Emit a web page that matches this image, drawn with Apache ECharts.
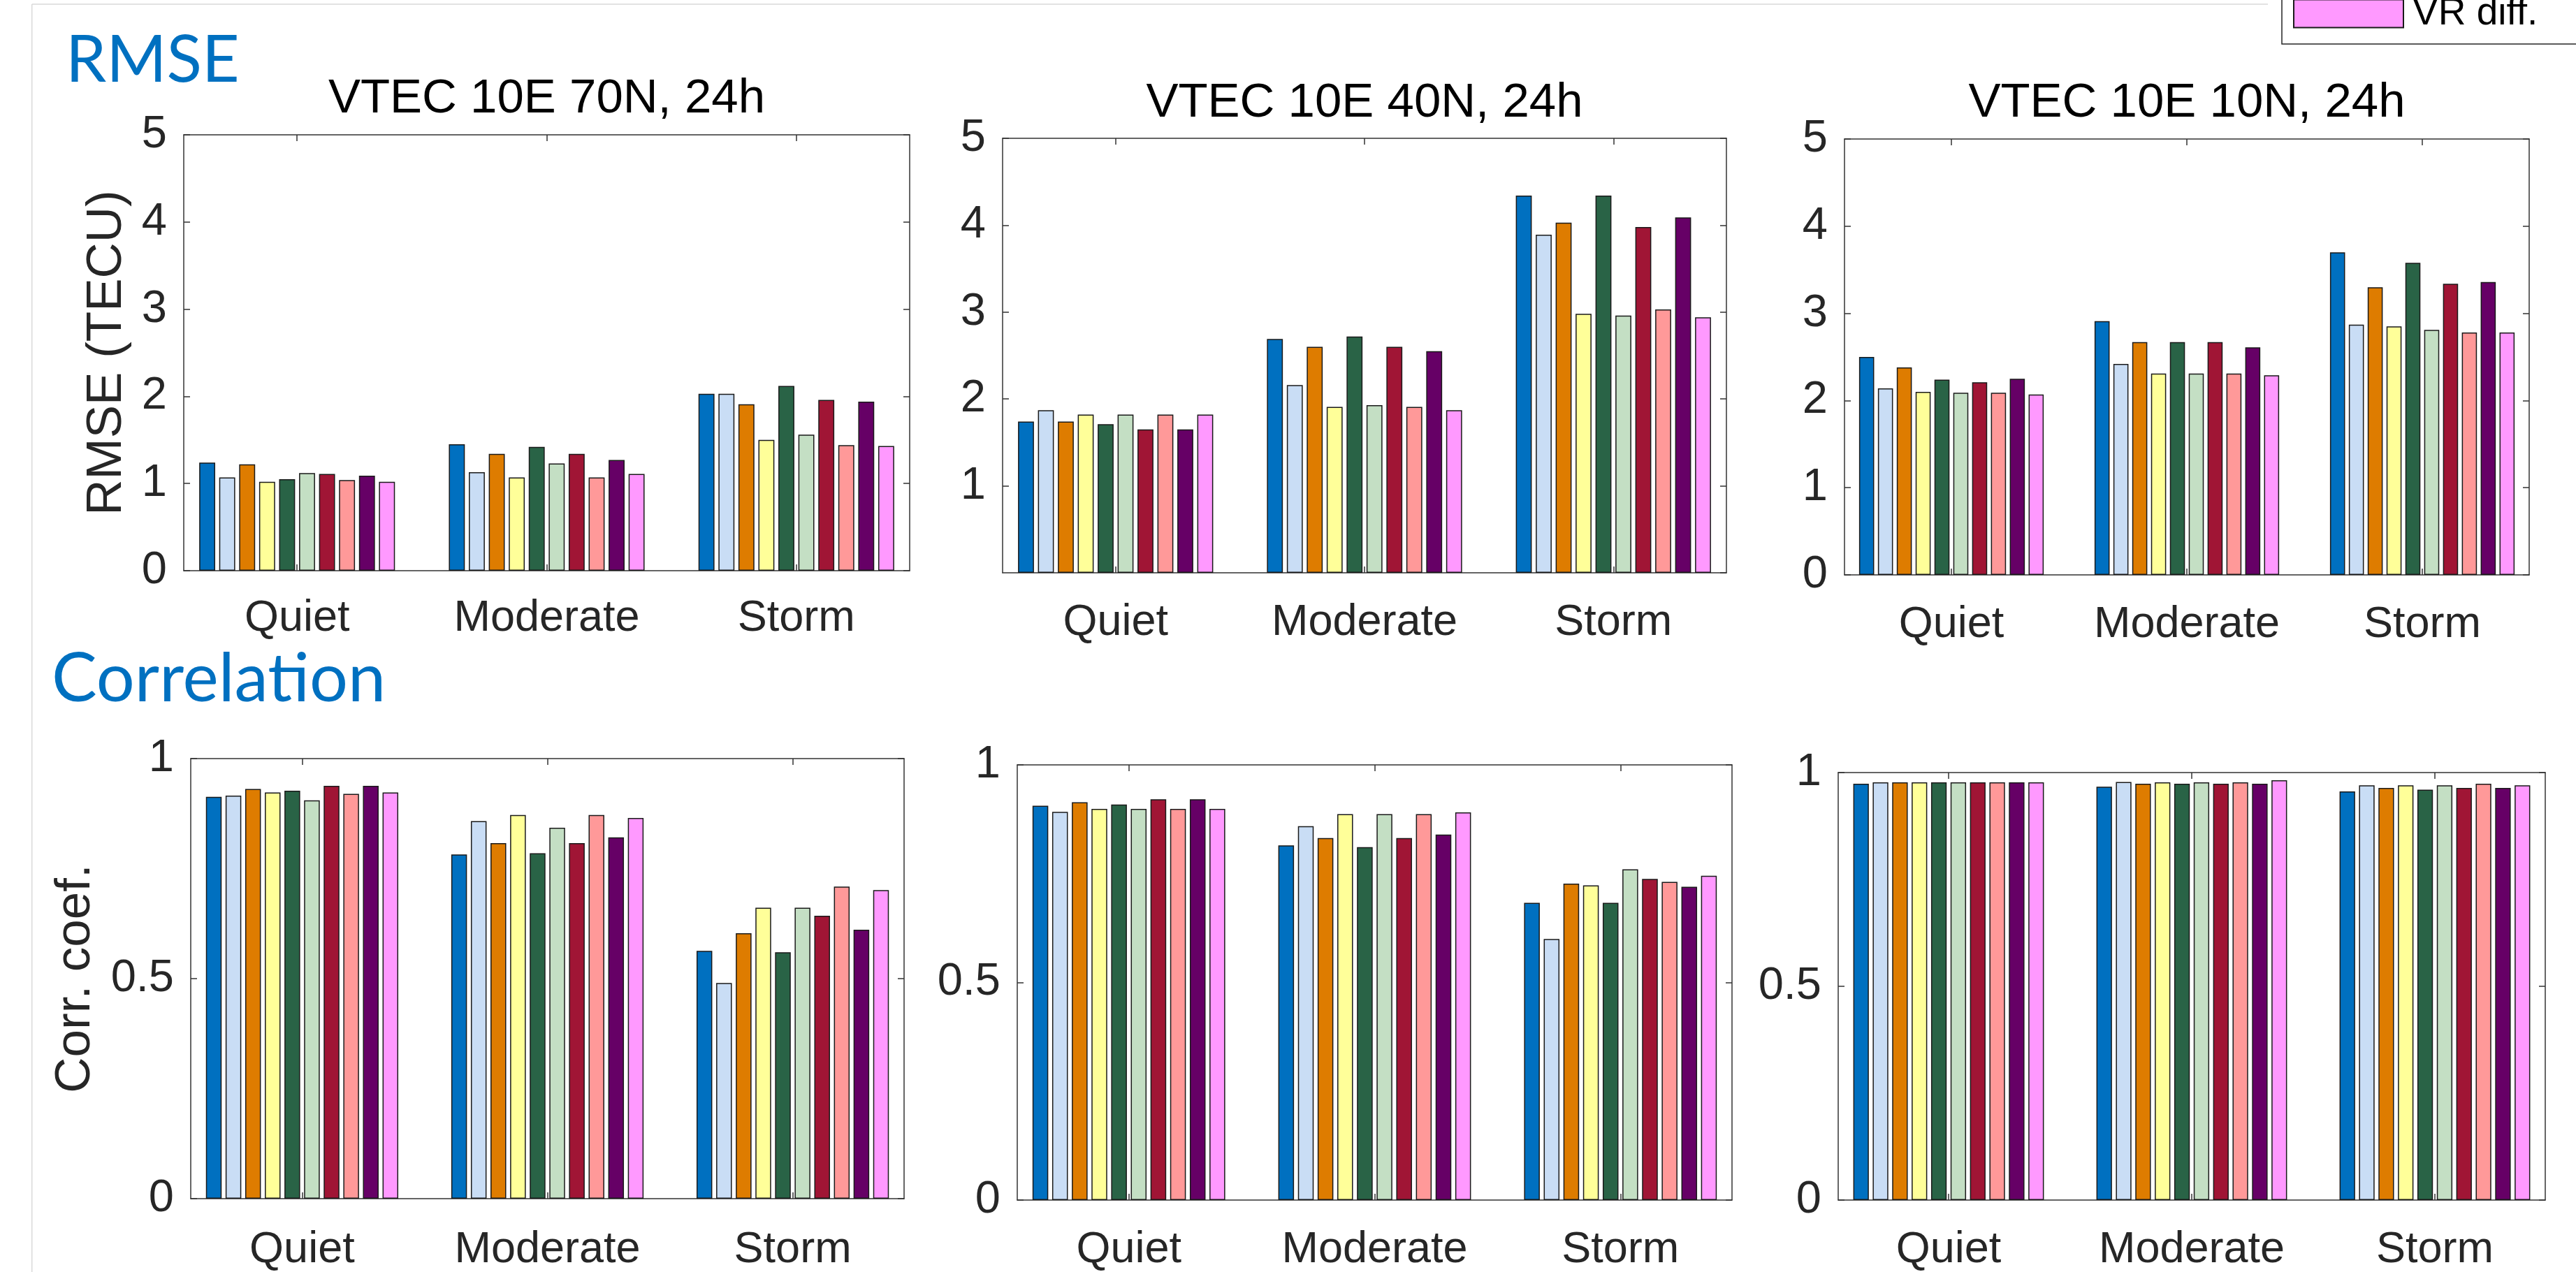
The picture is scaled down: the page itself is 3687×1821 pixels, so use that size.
<!DOCTYPE html>
<html>
<head>
<meta charset="utf-8">
<script src="https://cdn.jsdelivr.net/npm/echarts@6/dist/echarts.min.js"></script>
<style>
html,body{margin:0;padding:0;background:#fff;}
#chart{width:3687px;height:1821px;}
</style>
</head>
<body>
<div id="chart"></div>
<script>
// ---------------- DATA ----------------
const categories = ['Quiet', 'Moderate', 'Storm'];
const seriesNames = ['Series 1', 'Series 2', 'Series 3', 'Series 4', 'Series 5',
                     'Series 6', 'Series 7', 'Series 8', 'Series 9', 'VR diff.'];

// RMSE (TECU), VTEC 10E 70N
const rmse70N_quiet    = [1.24, 1.07, 1.22, 1.02, 1.05, 1.12, 1.11, 1.04, 1.09, 1.02];
const rmse70N_moderate = [1.45, 1.13, 1.34, 1.07, 1.42, 1.23, 1.34, 1.07, 1.27, 1.11];
const rmse70N_storm    = [2.03, 2.03, 1.91, 1.50, 2.12, 1.56, 1.96, 1.44, 1.94, 1.43];
// RMSE (TECU), VTEC 10E 40N
const rmse40N_quiet    = [1.74, 1.87, 1.74, 1.82, 1.71, 1.82, 1.65, 1.82, 1.65, 1.82];
const rmse40N_moderate = [2.69, 2.16, 2.60, 1.91, 2.72, 1.93, 2.60, 1.91, 2.55, 1.87];
const rmse40N_storm    = [4.34, 3.89, 4.03, 2.98, 4.34, 2.96, 3.98, 3.03, 4.09, 2.94];
// RMSE (TECU), VTEC 10E 10N
const rmse10N_quiet    = [2.50, 2.14, 2.38, 2.10, 2.24, 2.09, 2.21, 2.09, 2.25, 2.07];
const rmse10N_moderate = [2.91, 2.42, 2.67, 2.31, 2.67, 2.31, 2.67, 2.31, 2.61, 2.29];
const rmse10N_storm    = [3.70, 2.87, 3.30, 2.85, 3.58, 2.81, 3.34, 2.78, 3.36, 2.78];
// Correlation coefficient, 70N
const corr70N_quiet    = [0.913, 0.916, 0.931, 0.923, 0.927, 0.905, 0.938, 0.920, 0.938, 0.923];
const corr70N_moderate = [0.782, 0.858, 0.808, 0.872, 0.785, 0.843, 0.808, 0.872, 0.821, 0.865];
const corr70N_storm    = [0.563, 0.490, 0.603, 0.661, 0.560, 0.661, 0.643, 0.709, 0.611, 0.701];
// Correlation coefficient, 40N
const corr40N_quiet    = [0.906, 0.892, 0.914, 0.899, 0.909, 0.899, 0.921, 0.899, 0.921, 0.899];
const corr40N_moderate = [0.815, 0.859, 0.832, 0.887, 0.811, 0.887, 0.832, 0.887, 0.840, 0.891];
const corr40N_storm    = [0.683, 0.600, 0.727, 0.723, 0.683, 0.760, 0.738, 0.731, 0.720, 0.745];
// Correlation coefficient, 10N
const corr10N_quiet    = [0.974, 0.977, 0.977, 0.977, 0.977, 0.977, 0.977, 0.977, 0.977, 0.977];
const corr10N_moderate = [0.967, 0.978, 0.974, 0.977, 0.974, 0.977, 0.974, 0.977, 0.974, 0.982];
const corr10N_storm    = [0.956, 0.970, 0.964, 0.970, 0.960, 0.970, 0.964, 0.974, 0.964, 0.970];

const rmseTickInterval = 1;
const corrTickInterval = 0.5;

// ---------------- STYLE / LAYOUT ----------------
const barColors = ['#0070C0', '#C9DDF5', '#DE7C00', '#FFFF99', '#296346',
                   '#C4DFC4', '#A01535', '#FF9999', '#660066', '#FF99FF'];
const axisColor = '#333333';
const textColor = '#262626';
const FONT = 'Liberation Sans, Arial, sans-serif';

const panels = [
  { grid: {left: 263, top: 193, width: 1039, height: 624}, max: 5, interval: rmseTickInterval,
    data: [rmse70N_quiet, rmse70N_moderate, rmse70N_storm], catMargin: 37,
    title: 'VTEC 10E 70N, 24h', titleTop: 107, name: 'RMSE (TECU)', nameGap: 74, showMin: true },
  { grid: {left: 1435, top: 198, width: 1036, height: 622}, max: 5, interval: rmseTickInterval,
    data: [rmse40N_quiet, rmse40N_moderate, rmse40N_storm], catMargin: 40,
    title: 'VTEC 10E 40N, 24h', titleTop: 113, name: '', nameGap: 0, showMin: false },
  { grid: {left: 2640, top: 199, width: 980, height: 624}, max: 5, interval: rmseTickInterval,
    data: [rmse10N_quiet, rmse10N_moderate, rmse10N_storm], catMargin: 40,
    title: 'VTEC 10E 10N, 24h', titleTop: 113, name: '', nameGap: 0, showMin: true },
  { grid: {left: 273, top: 1086, width: 1021, height: 635}, max: 1, interval: corrTickInterval,
    data: [corr70N_quiet, corr70N_moderate, corr70N_storm], catMargin: 42,
    title: '', name: 'Corr. coef.', nameGap: 129, showMin: true },
  { grid: {left: 1456, top: 1095, width: 1023, height: 637}, max: 1, interval: corrTickInterval,
    data: [corr40N_quiet, corr40N_moderate, corr40N_storm], catMargin: 40,
    title: '', name: '', nameGap: 0, showMin: true },
  { grid: {left: 2631, top: 1106, width: 1012, height: 632}, max: 1, interval: corrTickInterval,
    data: [corr10N_quiet, corr10N_moderate, corr10N_storm], catMargin: 40,
    title: '', name: '', nameGap: 0, showMin: true }
];

const catPos = categories.map((c, i) => i + 1);
const xMin = 0.546, xMax = 3.454;

const grids = [], xAxes = [], yAxes = [], series = [], titles = [];

titles.push({ text: 'RMSE', left: 94, top: 40, padding: 0,
  textStyle: { fontFamily: 'Lato, sans-serif', fontSize: 93, fontWeight: 'normal', color: '#0070C0' } });
titles.push({ text: 'Correlation', left: 74, top: 924, padding: 0,
  textStyle: { fontFamily: 'Lato, sans-serif', fontSize: 97, fontWeight: 'normal', color: '#0070C0' } });

panels.forEach((p, pi) => {
  grids.push(Object.assign({ show: false, containLabel: false }, p.grid));
  const tickCommon = { show: true, inside: true, length: 9, lineStyle: { color: axisColor, width: 1.5 } };
  const lineCommon = { show: true, onZero: false, lineStyle: { color: axisColor, width: 1.5 } };
  // bottom x axis
  xAxes.push({
    type: 'value', gridIndex: pi, position: 'bottom', min: xMin, max: xMax,
    axisLine: lineCommon,
    axisTick: Object.assign({ customValues: catPos }, tickCommon),
    axisLabel: { show: true, customValues: catPos, margin: p.catMargin,
      formatter: v => categories[Math.round(v) - 1] || '',
      fontFamily: FONT, fontSize: 63, color: textColor },
    splitLine: { show: false }
  });
  // top x axis (mirror)
  xAxes.push({
    type: 'value', gridIndex: pi, position: 'top', min: xMin, max: xMax,
    axisLine: lineCommon,
    axisTick: Object.assign({ customValues: catPos }, tickCommon),
    axisLabel: { show: false }, splitLine: { show: false }
  });
  // left y axis
  yAxes.push({
    type: 'value', gridIndex: pi, position: 'left', min: 0, max: p.max, interval: p.interval,
    axisLine: lineCommon, axisTick: tickCommon,
    axisLabel: { show: true, margin: 24, showMinLabel: p.showMin, showMaxLabel: true,
      fontFamily: FONT, fontSize: 65, color: textColor },
    splitLine: { show: false },
    name: p.name, nameLocation: 'middle', nameGap: p.nameGap,
    nameTextStyle: { fontFamily: FONT, fontSize: 71, color: textColor }
  });
  // right y axis (mirror)
  yAxes.push({
    type: 'value', gridIndex: pi, position: 'right', min: 0, max: p.max, interval: p.interval,
    axisLine: lineCommon, axisTick: tickCommon,
    axisLabel: { show: false }, splitLine: { show: false }
  });
  if (p.title) {
    titles.push({ text: p.title, left: p.grid.left + p.grid.width / 2, textAlign: 'center',
      top: p.titleTop, padding: 0,
      textStyle: { fontFamily: FONT, fontSize: 69, fontWeight: 'normal', color: '#000' } });
  }
  seriesNames.forEach((name, si) => {
    series.push({
      type: 'bar', name: name,
      xAxisIndex: pi * 2, yAxisIndex: pi * 2,
      data: catPos.map((x, ci) => [x, p.data[ci][si]]),
      barGap: '25%', barCategoryGap: '21.6%',
      itemStyle: { color: barColors[si], borderColor: '#1a1a1a', borderWidth: 1.5 },
      emphasis: { disabled: true },
      z: 2
    });
  });
});

const chart = echarts.init(document.getElementById('chart'), null, { renderer: 'canvas' });
chart.setOption({
  animation: false,
  backgroundColor: '#ffffff',
  title: titles,
  grid: grids,
  xAxis: xAxes,
  yAxis: yAxes,
  series: series,
  legend: {
    data: ['VR diff.'], left: 3266, top: -24, orient: 'horizontal',
    icon: 'rect', itemWidth: 157, itemHeight: 40,
    padding: [16, 80, 16, 16], borderColor: '#262626', borderWidth: 1.5,
    backgroundColor: '#ffffff', selectedMode: false,
    textStyle: { fontFamily: FONT, fontSize: 55, color: '#000', padding: [0, 0, 0, 8] }
  },
  graphic: [
    { type: 'line', silent: true, shape: { x1: 45.7, y1: 6, x2: 45.7, y2: 1821 },
      style: { stroke: '#D9D9D9', lineWidth: 1.5 }, z: -1 },
    { type: 'line', silent: true, shape: { x1: 45.7, y1: 6, x2: 3246, y2: 6 },
      style: { stroke: '#D9D9D9', lineWidth: 1.5 }, z: -1 }
  ]
});
</script>
</body>
</html>
